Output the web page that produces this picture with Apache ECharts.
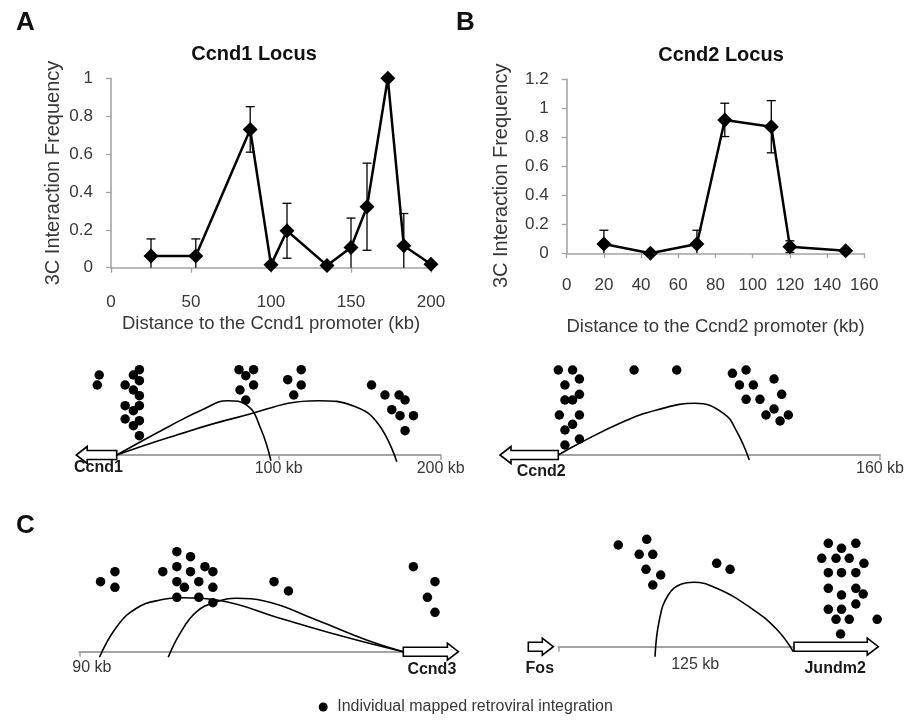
<!DOCTYPE html>
<html><head><meta charset="utf-8">
<script src="https://cdn.jsdelivr.net/npm/echarts@6/dist/echarts.min.js"></script>
<style>html,body{margin:0;padding:0;background:#fff}#c{width:905px;height:721px}</style>
</head><body><div id="c"></div>
<script>
const FONT = '"Liberation Sans", Arial, Helvetica, sans-serif';
const LEG = 'Individual mapped retroviral integration';

// ---- Panel A: Ccnd1 3C profile ----
const xA = [25, 53, 87, 100, 110, 135, 150, 160, 173, 183, 200];
const yA = [0.062, 0.062, 0.73, 0.015, 0.195, 0.012, 0.107, 0.322, 1.0, 0.116, 0.018];
const errA = [0.09, 0.09, 0.12, 0, 0.145, 0, 0.155, 0.23, 0, 0.17, 0];
const xTicksA = {min: 0, max: 200, interval: 50};
const yTicksA = {min: 0, max: 1, interval: 0.2};

// ---- Panel B: Ccnd2 3C profile ----
const xB = [20, 45, 70, 85, 110, 120, 150];
const yB = [0.064, 0.0, 0.064, 0.92, 0.873, 0.046, 0.018];
const errB = [0.095, 0, 0.095, 0.115, 0.18, 0.04, 0];
const xTicksB = {min: 0, max: 160, interval: 20};
const yTicksB = {min: 0, max: 1.2, interval: 0.2};

// ---- Locus diagrams: integrations [kb, height], arcs [kb, height] ----
const dotsA = [[-10.8,80],[-12,70],[14,85.3],[10.3,80],[14,74.3],[5.2,70],[10.3,65],[14,59.3],[5.2,49.3],[14,49.3],[10.3,44.3],[5.2,36],[14,34.3],[10.3,29.3],[14,19.3],
  [75.5,85.3],[84.5,85.3],[79.7,79.3],[84.5,70],[76.1,65],[79.7,55],
  [113.9,85.3],[105.6,75.3],[113.9,70],[109.3,60],
  [157.3,70],[165.6,60],[174.3,60],[178,55],[169.8,45.3],[174.9,39.3],[183.2,39.3],[178,24.3]];
const arcsA = [
  [[0,0],[33.1,29.3],[53.8,46],[68.3,54.3],[80.7,49.3],[89,26],[95.2,-5.7]],
  [[0,0],[33.1,18],[74.5,37.6],[124.2,54.3],[147,48.6],[161.5,31],[172.9,-6.7]]
];
const genesA = [{name:'Ccnd1', from:0, to:-25}];
const ticksA = [100, 200];

const dotsB = [[0,85],[7.1,85],[10.5,76],[3.3,70],[10.5,60.7],[3.3,55],[7.1,55],[0.5,40],[10.5,40],[7.1,30.7],[3.3,25],[10.5,16],[3.3,10],
  [37.7,85],[58.9,85],
  [86.6,81.7],[93.4,85],[90.1,70],[97,70],[107.3,76],[93.4,55.7],[100.3,55.7],[111.1,60.7],[107.3,46],[103.3,40],[114.4,40],[110.3,34]];
const arcsB = [
  [[0,0],[10.5,11.7],[32.3,33.3],[49,45],[68,51.7],[82.1,41.7],[88.8,23.3],[95,-5]]
];
const genesB = [{name:'Ccnd2', from:0, to:-29}];
const ticksB = [160];

const dotsC1 = [[84.1,70],[80.1,80],[80.1,64.4],[66.8,80],[62.9,100],[59.1,95],[62.9,85],[59.1,80],[55.1,85],[52.9,80],
  [62.9,70],[60.8,64.4],[56.8,70],[52.9,64.4],[62.9,54.4],[56.8,54.4],[52.9,49],
  [35.9,70],[31.9,60.7],
  [-2.8,85],[-8.8,70],[-6.7,54.4],[-8.8,39.4]];
const arcsC1 = [
  [[84.4,-5.6],[79.6,25],[74.1,43.4],[67.6,51.7],[61.1,54],[51.8,51.7],[33.3,32.4],[14.8,13.4],[0,0]],
  [[65.3,-5.6],[62,18.4],[57.4,40],[51.8,50],[46.3,53.4],[38.9,51],[24.1,31.7],[10.2,11.7],[0,0]]
];
const genesC1 = [{name:'Ccnd3', from:0, to:-15.3}];
const ticksC1 = [90];

const dotsC2 = [[31.8,101.7],[46.9,107.4],[42.9,92.4],[50.1,92.4],[46.5,77.4],[54.3,71.7],[50.1,61.7],
  [84,83.4],[91.1,77.4],
  [143.2,103.4],[150.2,98.4],[157.8,103.4],[139.7,88.4],[147.3,88.4],[154.3,88.4],[162.1,83.4],
  [143.2,74],[150.2,74],[157.8,74],[143.2,58.4],[150.2,51.7],[157.8,58.4],[161.7,52.7],[157.8,42.7],
  [143.2,37.4],[150.2,37.4],[147.3,27.4],[154.3,27.4],[169.1,27.4],[149.7,12.7]];
const arcsC2 = [
  [[51.3,-10],[53.6,26.7],[58.3,51.7],[65.4,62.7],[71.6,64.4],[84,58.4],[101.6,39.4],[115.8,17.4],[124.6,-5]]
];
const genesC2 = [{name:'Fos', from:-15.9, to:-2.65}, {name:'Jundm2', from:125, to:169.7}];
const ticksC2 = [0, 125];
const spanC2 = '125 kb';

// ---------------------------------------------------------------
const GRAY = '#a3a3a3';
const TXT = '#383838';

function errRender(params, api) {
  const x = api.value(0), y = api.value(1), e = api.value(2);
  if (!e) return null;
  const top = api.coord([x, y + e]);
  const lowV = y - e;
  const bot = api.coord([x, Math.max(0, lowV)]);
  const hw = 4.5;
  const st = {stroke:'#000', lineWidth:1.3};
  const ch = [
    {type:'line', shape:{x1:top[0], y1:top[1], x2:bot[0], y2:bot[1]}, style:st},
    {type:'line', shape:{x1:top[0]-hw, y1:top[1], x2:top[0]+hw, y2:top[1]}, style:st}
  ];
  if (lowV >= 0) ch.push({type:'line', shape:{x1:bot[0]-hw, y1:bot[1], x2:bot[0]+hw, y2:bot[1]}, style:st});
  return {type:'group', children:ch};
}

function geneSeries(genes, idx, dx, dy) {
  return {
    type:'custom', xAxisIndex:idx, yAxisIndex:idx, clip:false, z:5, silent:true,
    data: genes.map(g => [g.from, g.to]),
    renderItem: function (p, api) {
      const g = genes[p.dataIndex];
      const a = api.coord([api.value(0), 0]);
      const b = api.coord([api.value(1), 0]);
      const dir = b[0] > a[0] ? 1 : -1;
      const bodyH = 4.5, headH = 8.5, headL = 11;
      const hx = b[0] - dir * headL;
      const y = a[1];
      const pts = [[a[0], y-bodyH],[hx, y-bodyH],[hx, y-headH],[b[0], y],[hx, y+headH],[hx, y+bodyH],[a[0], y+bodyH]];
      return {type:'group', children:[
        {type:'polygon', shape:{points:pts}, style:{fill:'#fff', stroke:'#000', lineWidth:1.6}},
        {type:'text', style:{text:g.name, x:(a[0]+b[0])/2 + dx, y:y+dy, align:'center', verticalAlign:'middle',
          font:'bold 16px ' + FONT, fill:'#1a1a1a'}}
      ]};
    }
  };
}

function dotSeries(dots, idx) {
  return {type:'scatter', name:LEG, xAxisIndex:idx, yAxisIndex:idx, data:dots, symbol:'circle', symbolSize:9.5,
    itemStyle:{color:'#000', opacity:1}, clip:false, z:4, silent:true};
}
function arcSeries(arcs, idx) {
  return arcs.map(a => ({type:'line', xAxisIndex:idx, yAxisIndex:idx, data:a, smooth:0.45, showSymbol:false, symbol:'none',
    lineStyle:{color:'#000', width:1.6}, clip:false, z:3, silent:true}));
}

function chartX(gi, t, name, margin, gap) {
  return {gridIndex:gi, type:'value', min:t.min, max:t.max, interval:t.interval,
    axisLine:{show:true, onZero:false, lineStyle:{color:GRAY, width:1.6}},
    axisTick:{show:true, length:5, lineStyle:{color:GRAY, width:1.3}},
    axisLabel:{margin:margin, fontSize:17, color:TXT, fontFamily:FONT},
    splitLine:{show:false},
    name:name, nameLocation:'middle', nameGap:gap, nameMoveOverlap:false,
    nameTextStyle:{fontSize:18.5, color:TXT, fontFamily:FONT}};
}
function chartY(gi, t, gap, pad) {
  return {gridIndex:gi, type:'value', min:t.min, max:t.max, interval:t.interval,
    axisLine:{show:true, lineStyle:{color:GRAY, width:1.6}},
    axisTick:{show:true, length:5, lineStyle:{color:GRAY, width:1.3}},
    axisLabel:{margin:18, fontSize:17, color:TXT, fontFamily:FONT},
    splitLine:{show:false},
    name:'3C Interaction Frequency', nameLocation:'middle', nameGap:gap, nameMoveOverlap:false,
    nameTextStyle:{fontSize:20, color:TXT, fontFamily:FONT, padding:pad}};
}
function diagX(gi, min, max, ticks, labelOpt, inverse) {
  return {gridIndex:gi, type:'value', min:min, max:max, inverse:!!inverse,
    axisLine:{show:true, lineStyle:{color:GRAY, width:2}},
    axisTick:{show:true, customValues:ticks, length:5, inside:false, lineStyle:{color:GRAY, width:1.5}},
    axisLabel:Object.assign({show:true, customValues:ticks, margin:6, fontSize:16, color:TXT, fontFamily:FONT,
      formatter: v => v + ' kb'}, labelOpt || {}),
    splitLine:{show:false}};
}
function diagY(gi) {
  return {gridIndex:gi, type:'value', min:0, max:100, show:false};
}

const grids = [
  {left:111, top:78.3, width:320, height:189.4},
  {left:566.7, top:79.3, width:297.6, height:174},
  {left:116.7, top:355, width:324, height:100},
  {left:558.3, top:355, width:321.7, height:100},
  {left:79.3, top:551.7, width:324, height:100},
  {left:558.3, top:546.7, width:235.7, height:100}
].map(g => Object.assign({outerBoundsMode:'none', containLabel:false}, g));

const titleStyle = (fs) => ({fontSize:fs, fontWeight:'bold', color:'#111', fontFamily:FONT});

const option = {
  animation:false,
  backgroundColor:'#fff',
  textStyle:{fontFamily:FONT},
  title:[
    {text:'A', left:16, top:10, padding:0, textStyle:titleStyle(26)},
    {text:'B', left:456, top:10, padding:0, textStyle:titleStyle(26)},
    {text:'C', left:16, top:512.5, padding:0, textStyle:titleStyle(26)},
    {text:'Ccnd1 Locus', left:254, top:44.6, textAlign:'center', padding:0, textStyle:titleStyle(20)},
    {text:'Ccnd2 Locus', left:721, top:45.5, textAlign:'center', padding:0, textStyle:titleStyle(20)}
  ],
  legend:{data:[LEG], left:318.7, top:699, padding:0, itemWidth:18, itemHeight:9, icon:'circle',
    selectedMode:false, textStyle:{fontSize:16, color:TXT, fontFamily:FONT}},
  grid:grids,
  xAxis:[
    chartX(0, xTicksA, 'Distance to the Ccnd1 promoter (kb)', 26, 47),
    chartX(1, xTicksB, 'Distance to the Ccnd2 promoter (kb)', 24, 63.7),
    diagX(2, 0, 200, ticksA),
    diagX(3, 0, 160, ticksB),
    diagX(4, 0, 90, ticksC1, {align:'left', padding:[0,0,0,-7], margin:8}, true),
    Object.assign(diagX(5, 0, 125, ticksC2, {show:false}), {name:spanC2, nameLocation:'middle', nameGap:10,
      nameMoveOverlap:false, nameTextStyle:{fontSize:16, color:TXT, fontFamily:FONT, padding:[0,0,0,38]}})
  ],
  yAxis:[
    chartY(0, yTicksA, 48, 0),
    chartY(1, yTicksB, 55, [0,19,0,0]),
    diagY(2), diagY(3), diagY(4), diagY(5)
  ],
  series:[
    {type:'line', xAxisIndex:0, yAxisIndex:0, data:xA.map((x,i)=>[x,yA[i]]), symbol:'diamond', symbolSize:15,
      itemStyle:{color:'#000'}, lineStyle:{color:'#000', width:2.5}, z:3},
    {type:'custom', xAxisIndex:0, yAxisIndex:0, data:xA.map((x,i)=>[x,yA[i],errA[i]]), encode:{x:0,y:1}, renderItem:errRender, z:4, clip:false},
    {type:'line', xAxisIndex:1, yAxisIndex:1, data:xB.map((x,i)=>[x,yB[i]]), symbol:'diamond', symbolSize:15,
      itemStyle:{color:'#000'}, lineStyle:{color:'#000', width:2.5}, z:3, clip:false},
    {type:'custom', xAxisIndex:1, yAxisIndex:1, data:xB.map((x,i)=>[x,yB[i],errB[i]]), encode:{x:0,y:1}, renderItem:errRender, z:4, clip:false},
    dotSeries(dotsA, 2), dotSeries(dotsB, 3), dotSeries(dotsC1, 4), dotSeries(dotsC2, 5),
    ...arcSeries(arcsA, 2), ...arcSeries(arcsB, 3), ...arcSeries(arcsC1, 4), ...arcSeries(arcsC2, 5),
    geneSeries(genesA, 2, 2, 12.7),
    geneSeries(genesB, 3, 12, 16.8),
    geneSeries(genesC1, 4, 1, 18),
    geneSeries(genesC2, 5, -1, 22)
  ]
};

const chart = echarts.init(document.getElementById('c'), null, {renderer:'canvas'});
chart.setOption(option);
</script></body></html>
